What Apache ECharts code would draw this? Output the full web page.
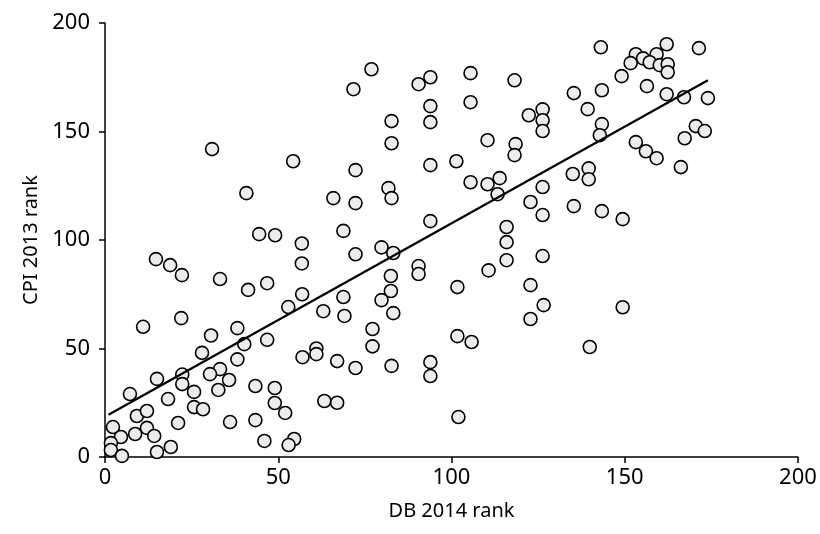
<!DOCTYPE html>
<html>
<head>
<meta charset="utf-8">
<script src="https://cdn.jsdelivr.net/npm/echarts@6/dist/echarts.min.js"></script>
<style>html,body{margin:0;padding:0;background:#fff}#c{width:820px;height:534px}</style>
</head>
<body>
<div id="c"></div>
<script>
// DB 2014 rank (x) and CPI 2013 rank (y)
const dbRank = [
 11,30.6,38.2,40.2,46.8,28,38.2,22.3,33.2,30.3,15,22.3,35.8,7.2,25.7,32.7,43.4,49,18.2,49,25.7,28.3,9.2,12.1,21.1,36.1,43.4,2.3,12.1,8.7,4.6,14.2,46,1.7,1.7,19,15,4.9,
 44.5,49.1,14.7,18.8,22.2,33.2,41.3,46.8,22,
 30.9,40.8,
 57,61,61,67,72.3,77.2,77.2,82.7,93.9,93.9,52,63.3,67,54.6,53,
 56.8,68.8,56.8,72.3,79.8,83.2,90.5,90.5,82.5,82.5,93.9,56.9,52.9,68.8,63,69.1,79.8,83.2,
 76.9,71.7,90.5,93.9,93.9,93.9,82.7,82.7,54.3,72.3,93.9,81.8,82.7,65.9,72.3,
 122.8,135.3,143.4,149.4,126.3,115.9,115.9,115.9,110.7,126.3,101.7,122.8,126.6,122.8,101.7,105.8,139.9,102,149.4,
 143.1,105.5,118.2,149.1,105.5,135.3,143.4,139.3,122.3,126.3,126.3,126.3,143.4,142.8,110.4,118.5,118.2,101.4,105.5,110.4,113.9,113.3,126.3,135,139.6,139.6,
 162.1,171.4,153.2,155.3,159.2,151.7,157.2,160.1,162.4,162.4,156.4,162.1,167.1,174,170.5,173.1,167.3,153.2,156.1,159.2,166.2
];
const cpiRank = [
 60,56,59.4,52,54,48,45,38,40.5,38.2,36,33.6,35.5,29,30,30.9,32.7,31.8,26.7,24.9,23,22,18.9,21.2,15.7,16.1,17,13.8,13.4,10.6,9.2,9.7,7.4,6.4,3.2,4.6,2.3,0.5,
 102.7,102.2,91.2,88.4,83.8,82,77,80.1,64,
 141.9,121.6,
 46,50,47.4,44.2,41,51,59,42,43.7,37.3,20.3,25.8,25,8.3,5.5,
 98.4,104.2,89.2,93.4,96.6,94,88,84.3,83.4,76.5,108.7,75,69.1,73.7,67.2,65,72.3,66.3,
 178.7,169.5,171.8,175,161.7,154.3,154.8,144.6,136.3,132.2,134.5,123.9,119.3,119.3,117,
 117.5,115.6,113.3,109.6,111.5,106,99,90.7,86,92.6,78.3,79.2,70,63.6,55.7,53,50.7,18.4,69,
 188.8,176.9,173.6,175.5,163.5,167.7,169,160.3,157.5,160.2,155.2,150.2,153.4,148.3,146,144.2,139.1,136.3,126.6,125.7,128.5,121.1,124.4,130.4,133,128,
 190.2,188.4,185.6,183.7,185.6,181.5,181.9,180.6,181,177.3,170.9,167.2,165.8,165.4,152.5,150.2,146.9,145.1,140.9,137.7,133.6
];
// fitted line end points
const fitX = [1, 174];
const fitY = [19.5, 173.6];
const xTicks = [0, 50, 100, 150, 200];
const yTicks = [0, 50, 100, 150, 200];

const points = dbRank.map((x, i) => [x, cpiRank[i]]);
const fitLine = fitX.map((x, i) => [x, fitY[i]]);
const FONT = 'Noto Sans';

const axisCommon = {
  type: 'value', min: xTicks[0], max: xTicks[xTicks.length - 1], interval: xTicks[1] - xTicks[0],
  axisLine: { show: true, lineStyle: { color: '#000', width: 1.5 } },
  axisTick: { show: true, inside: false, length: 6, lineStyle: { color: '#000', width: 1.5 } },
  splitLine: { show: false },
  axisLabel: { color: '#000', fontSize: 22, fontFamily: FONT },
  nameLocation: 'middle',
  nameTextStyle: { color: '#000', fontSize: 20, fontFamily: FONT }
};

const chart = echarts.init(document.getElementById('c'), null, { renderer: 'canvas' });
chart.setOption({
  animation: false,
  backgroundColor: '#fff',
  grid: { left: 105, right: 22, top: 23, bottom: 77, containLabel: false },
  xAxis: Object.assign({}, axisCommon, {
    name: 'DB 2014 rank', nameGap: 44,
    axisLabel: Object.assign({}, axisCommon.axisLabel, { margin: 10 })
  }),
  yAxis: Object.assign({}, axisCommon, {
    min: yTicks[0], max: yTicks[yTicks.length - 1], interval: yTicks[1] - yTicks[0],
    name: 'CPI 2013 rank', nameGap: 64,
    axisLabel: Object.assign({}, axisCommon.axisLabel, { margin: 15 })
  }),
  series: [
    {
      type: 'scatter', data: points, symbol: 'circle', symbolSize: 13,
      itemStyle: { color: '#ececec', borderColor: '#000', borderWidth: 1.6, opacity: 1 },
      z: 3
    },
    {
      type: 'line', data: fitLine, symbol: 'none', silent: true,
      lineStyle: { color: '#000', width: 2.2 }, z: 4
    }
  ]
});
</script>
</body>
</html>
